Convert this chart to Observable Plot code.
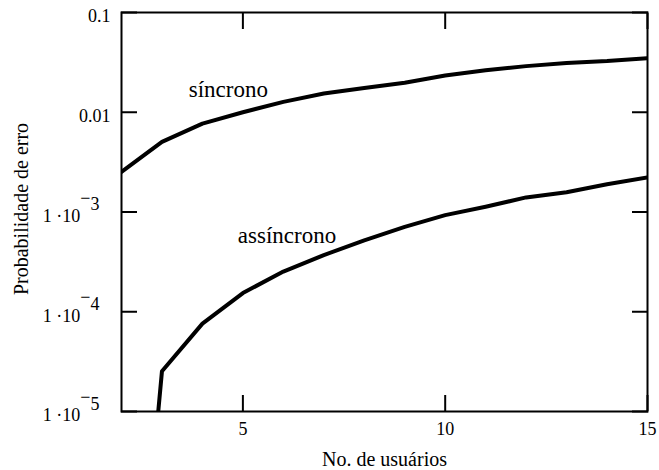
<!DOCTYPE html>
<html>
<head>
<meta charset="utf-8">
<script src="https://cdn.jsdelivr.net/npm/d3@7"></script>
<script src="https://cdn.jsdelivr.net/npm/@observablehq/plot@0.6"></script>
<style>
  body { margin: 0; background: #fff; }
  svg text { font-family: "Liberation Serif", "Times New Roman", serif; }
</style>
</head>
<body>
<div id="chart"></div>
<script>
// Error probability versus number of users, synchronous and asynchronous schemes
const users = [2, 3, 4, 5, 6, 7, 8, 9, 10, 11, 12, 13, 14, 15];
const sincrono = [0.00253, 0.00505, 0.0077, 0.0100, 0.0127, 0.0154, 0.0175, 0.0198, 0.0234, 0.0263, 0.0290, 0.0311, 0.0326, 0.0349];
const assincrono = [1e-9, 2.53e-5, 7.6e-5, 1.54e-4, 2.53e-4, 3.7e-4, 5.2e-4, 7.1e-4, 9.3e-4, 1.13e-3, 1.40e-3, 1.58e-3, 1.90e-3, 2.22e-3];

const xTicks = [5, 10, 15];
const yTicks = [1e-5, 1e-4, 1e-3, 0.01, 0.1];
const yTickLabels = ["1 ·10^−^5", "1 ·10^−^4", "1 ·10^−^3", "0.01", "0.1"];

const seriesNames = ["síncrono", "assíncrono"];
const labelX = [4.64, 6.09];
const labelY = [0.0169, 5.77e-4];

const xTitle = "No. de usuários";
const yTitle = "Probabilidade de erro";

const serif = "Liberation Serif";

const rows = [
  ...users.map((u, i) => ({users: u, p: sincrono[i], serie: seriesNames[0]})),
  ...users.map((u, i) => ({users: u, p: assincrono[i], serie: seriesNames[1]}))
];
const curveLabels = seriesNames.map((s, i) => ({x: labelX[i], y: labelY[i], text: s}));

const blank = () => "";

const chart = Plot.plot({
  width: 659,
  height: 470,
  marginLeft: 121,
  marginRight: 12,
  marginTop: 12,
  marginBottom: 59,
  style: {
    fontFamily: serif,
    fontSize: "18px",
    color: "black",
    background: "white",
    overflow: "visible"
  },
  x: {domain: [2, 15]},
  y: {type: "log", domain: [1e-5, 0.1]},
  marks: [
    // tick labels
    Plot.axisX(xTicks, {anchor: "bottom", tickSize: 0, tickPadding: 11, label: null, fontSize: 18, fontFamily: serif}),
    Plot.axisY(yTicks, {anchor: "left", tickSize: 0, tickPadding: 11, dy: 4, label: null, fontSize: 18, fontFamily: serif,
      tickFormat: (d) => yTickLabels[yTicks.indexOf(d)]}),
    // inward tick marks on all four sides
    Plot.axisX(xTicks, {anchor: "bottom", tickSize: -16, strokeWidth: 2, tickFormat: blank, label: null}),
    Plot.axisX(xTicks, {anchor: "top", tickSize: -16, strokeWidth: 2, tickFormat: blank, label: null}),
    Plot.axisY(yTicks, {anchor: "left", tickSize: -16, strokeWidth: 2, tickFormat: blank, label: null}),
    Plot.axisY(yTicks, {anchor: "right", tickSize: -16, strokeWidth: 2, tickFormat: blank, label: null}),
    Plot.frame({stroke: "black", strokeWidth: 2}),
    Plot.line(rows, {x: "users", y: "p", z: "serie", stroke: "black", strokeWidth: 4, clip: true}),
    Plot.text(curveLabels, {x: "x", y: "y", text: "text", fontSize: 23, fontFamily: serif}),
    Plot.text([xTitle], {text: (d) => d, frameAnchor: "bottom", textAnchor: "middle", lineAnchor: "middle",
      dy: 47.6, fontSize: 20, fontFamily: serif}),
    Plot.text([yTitle], {text: (d) => d, frameAnchor: "left", textAnchor: "middle", lineAnchor: "middle",
      rotate: -90, dx: -100.4, dy: -3, fontSize: 20, fontFamily: serif})
  ]
});

document.getElementById("chart").appendChild(chart);

// Power-of-ten labels: raised exponent with its minus sign
d3.select(chart).selectAll('g[aria-label="y-axis tick label"] text').each(function () {
  const t = d3.select(this);
  const s = t.text();
  if (!s.includes("^")) return;
  const [base, minus, exp] = s.split("^");
  t.text(null).attr("dx", -11);
  t.append("tspan").text(base);
  t.append("tspan").attr("dy", -18.2).text(minus);
  t.append("tspan").attr("dy", 6.5).text(exp);
});
</script>
</body>
</html>
